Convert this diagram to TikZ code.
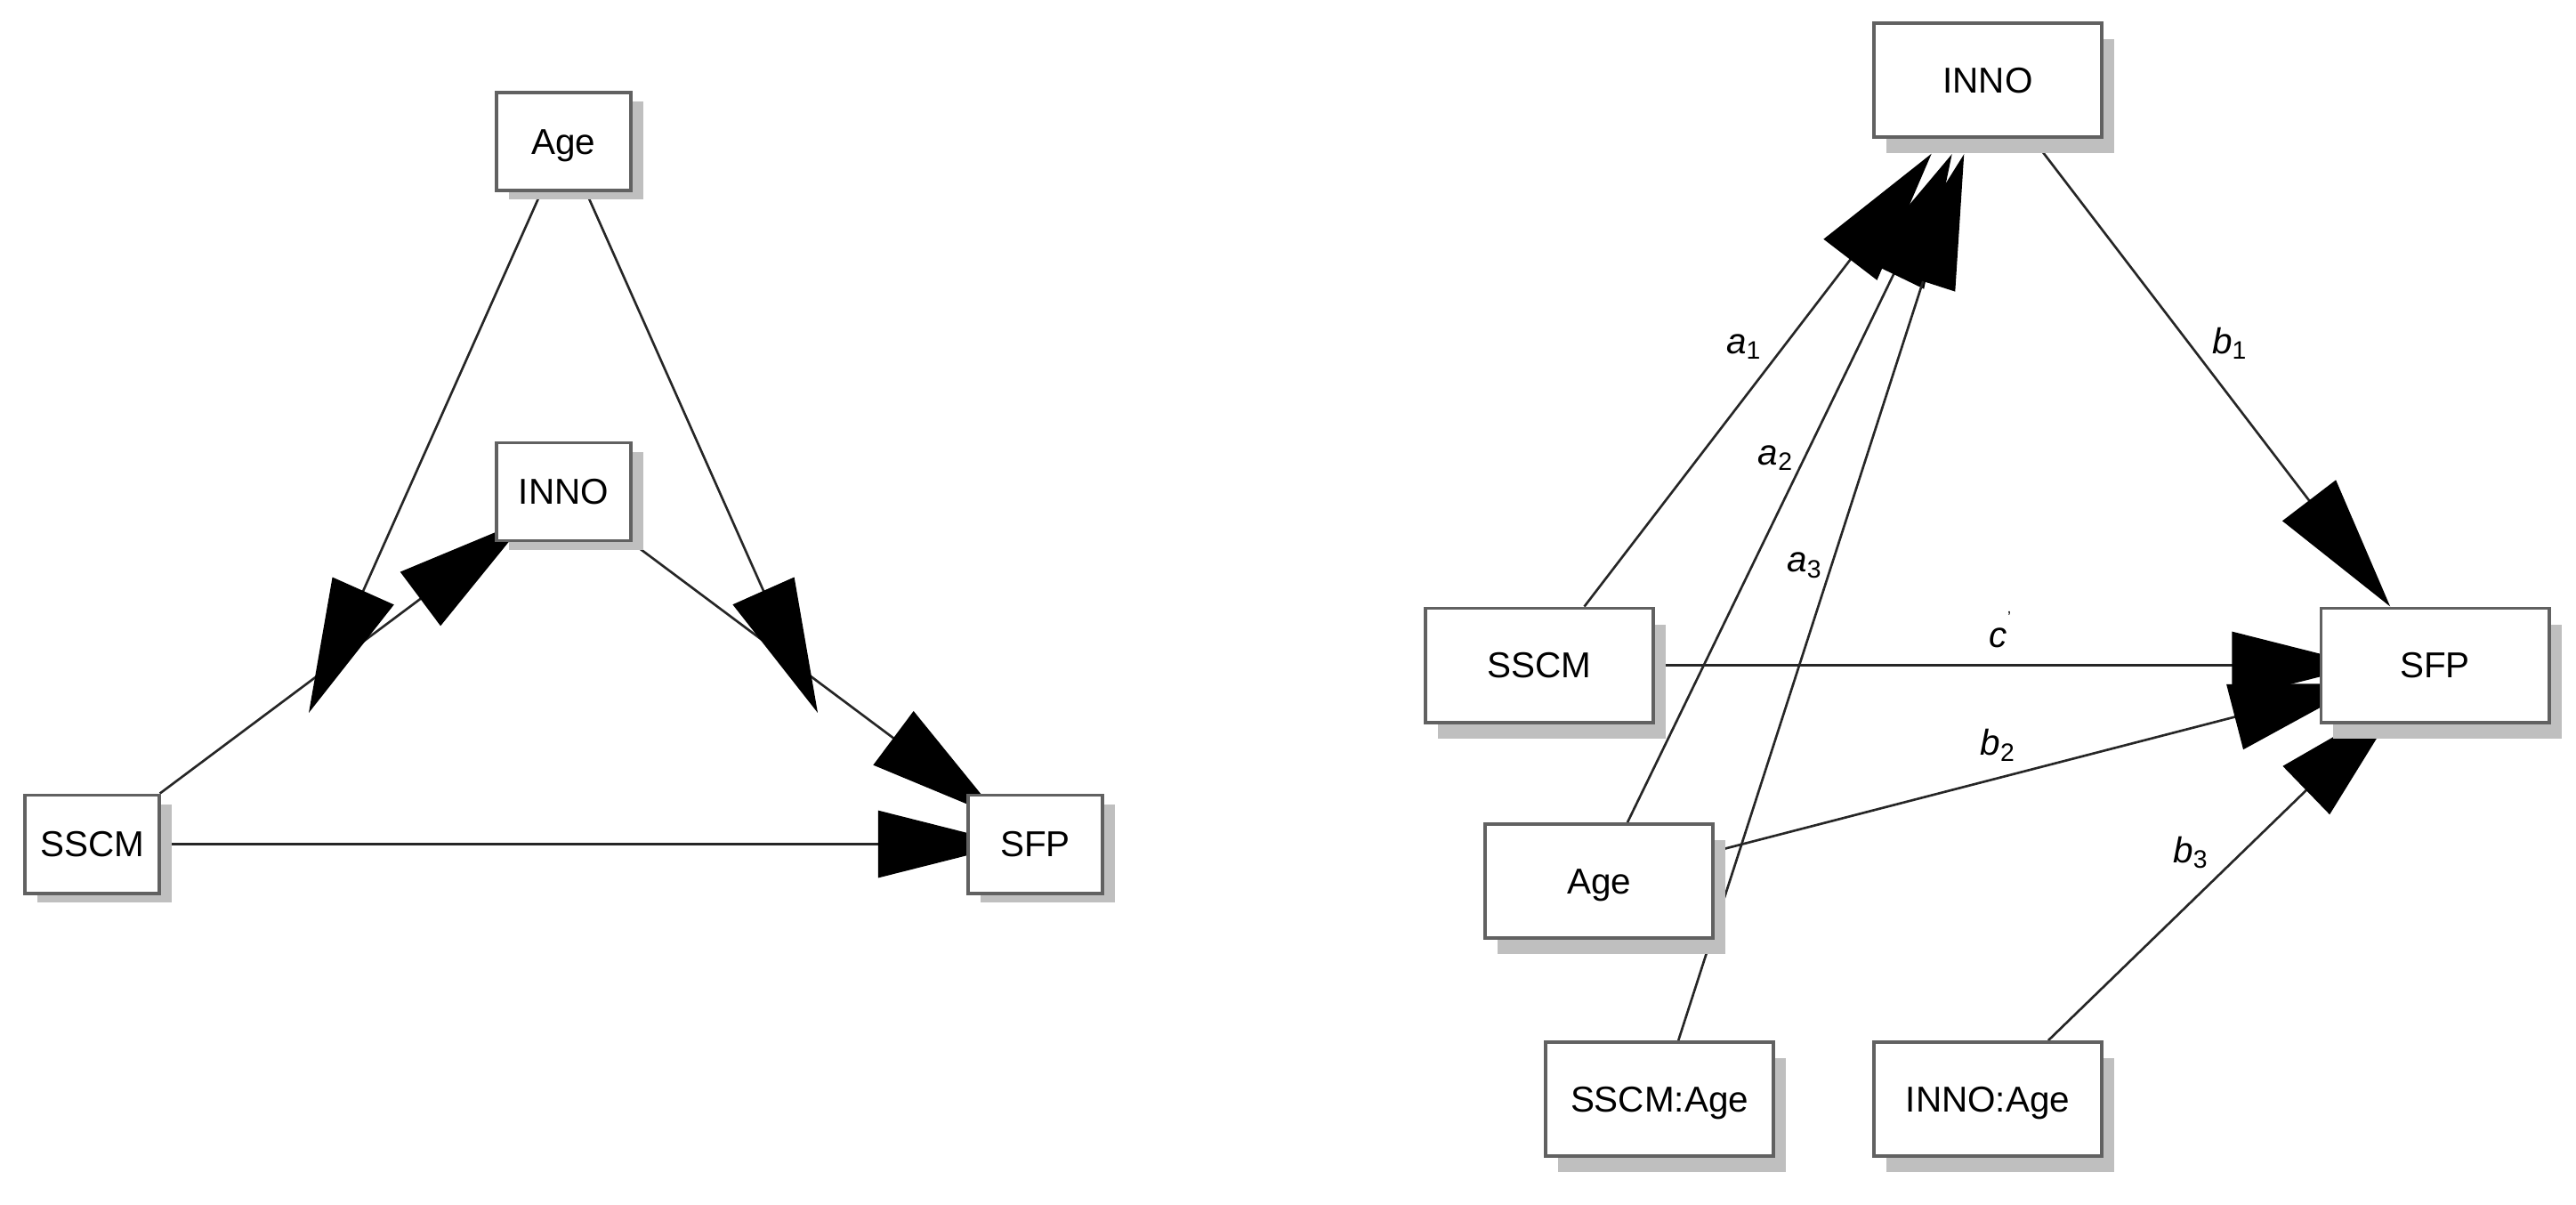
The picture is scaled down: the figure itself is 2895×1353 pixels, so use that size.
\documentclass[tikz,border=0pt]{standalone}
\usepackage{fontspec}
\setmainfont{Liberation Sans}
\usetikzlibrary{arrows.meta,shadows,backgrounds}

\begin{document}
\begin{tikzpicture}[x=0.01cm, y=-0.01cm,
  var/.style={draw=black!62, line width=1.1pt, fill=white, inner sep=0pt,
    font=\fontsize{11.5}{13}\selectfont, text height=8.2pt, text depth=0pt},
  varL/.style={var, minimum width=1.51cm, minimum height=1.10cm,
    drop shadow={shadow xshift=0.14cm, shadow yshift=-0.10cm, fill=black!25, opacity=1}},
  varR/.style={var, minimum width=2.56cm, minimum height=1.28cm,
    drop shadow={shadow xshift=0.14cm, shadow yshift=-0.18cm, fill=black!25, opacity=1}},
  reg/.style={draw=black!85, line width=0.75pt,
    -{Triangle[length=1.5cm, width=0.75cm, color=black]}},
  lbl/.style={font=\fontsize{11.5}{13}\selectfont\itshape}]
  \useasboundingbox (0,0) rectangle (2895,1353);
  \node[varL] (lAge) at (633.5,159) {Age};
  \node[varL] (lInno) at (633.5,552.5) {INNO};
  \node[varL] (lSscm) at (103.5,948.5) {SSCM};
  \node[varL] (lSfp) at (1163.5,948.5) {SFP};
  \coordinate (lModA) at (347,801);
  \coordinate (lModB) at (919,801);
  \node[varR] (rInno) at (2234,90) {INNO};
  \node[varR] (rSscm) at (1730,747.5) {SSCM};
  \node[varR] (rSfp) at (2736.5,747.5) {SFP};
  \node[varR] (rAge) at (1797,990) {Age};
  \node[varR] (rSscmAge) at (1865,1235) {SSCM:Age};
  \node[varR] (rInnoAge) at (2234,1235) {INNO:Age};
  \begin{scope}[on background layer]
    \draw[reg, shorten >=-0.44cm] (lSscm) -- (lInno);
    \draw[reg, shorten >=-0.46cm] (lInno) -- (lSfp);
    \draw[reg, shorten >=-0.51cm] (lSscm) -- (lSfp);
    \draw[reg] (lAge) -- (lModA);
    \draw[reg] (lAge) -- (lModB);
    \draw[reg, shorten >=0.21cm] (rSscm) -- node[lbl, pos=0.555, xshift=-0.44cm] {a\textsubscript{\upshape 1}} (rInno);
    \draw[reg, shorten >=0.19cm] (rAge) -- node[lbl, pos=0.533, xshift=-0.32cm] {a\textsubscript{\upshape 2}} (rInno);
    \draw[reg, shorten >=0.18cm] (rSscmAge) -- node[lbl, pos=0.527, xshift=-0.30cm] {a\textsubscript{\upshape 3}} (rInno);
    \draw[reg] (rInno) -- node[lbl, pos=0.437, xshift=0.46cm] {b\textsubscript{\upshape 1}} (rSfp);
    \draw[reg, shorten >=-0.52cm] (rSscm) -- node[lbl, pos=0.517, yshift=0.31cm] {c\smash{\rlap{\raisebox{1.3ex}{\fontsize{5}{5}\selectfont\upshape '}}}} (rSfp);
    \draw[reg, shorten >=-0.52cm] (rAge) -- node[lbl, pos=0.469, yshift=0.37cm] {b\textsubscript{\upshape 2}} (rSfp);
    \draw[reg, shorten >=-0.43cm] (rInnoAge) -- node[lbl, pos=0.593, xshift=-0.57cm] {b\textsubscript{\upshape 3}} (rSfp);
  \end{scope}
\end{tikzpicture}
\end{document}
